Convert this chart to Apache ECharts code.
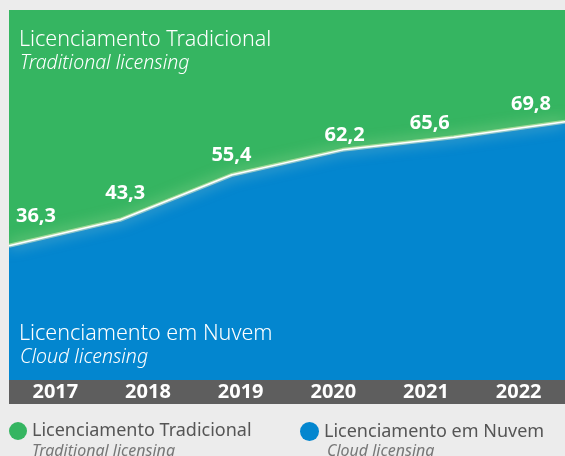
<!DOCTYPE html>
<html>
<head>
<meta charset="utf-8">
<script src="https://cdn.jsdelivr.net/npm/echarts@6/dist/echarts.min.js"></script>
<style>
  html, body { margin: 0; padding: 0; background: #ececec; }
  #chart { width: 565px; height: 456px; }
</style>
</head>
<body>
<div id="chart"></div>
<script>
const years = ['2017', '2018', '2019', '2020', '2021', '2022']
const cloud = [36.3, 43.3, 55.4, 62.2, 65.6, 69.8]
const traditional = [63.7, 56.7, 44.6, 37.8, 34.4, 30.2]

// label nudges so the numbers sit like in the print
const labelOffsets = [[27, -14], [5, -11], [0, -4], [2, 1], [-24, 2], [-34, -2]]

const green = '#35b561'
const blue = '#0386cf'
const font = 'Noto Sans'

const chart = echarts.init(document.getElementById('chart'))

const legendText = { color: '#555', fontSize: 18, fontFamily: font }

const option = {
  backgroundColor: '#ececec',
  textStyle: { fontFamily: font },
  grid: [
    { left: 9, right: 0, top: 10, bottom: 76 },
    { left: 9, right: 0, top: 380, height: 24, show: true, backgroundColor: '#5e5e5e', borderWidth: 0 },
  ],
  xAxis: [
    { type: 'category', data: years, boundaryGap: false, show: false },
    {
      type: 'category',
      gridIndex: 1,
      data: years,
      boundaryGap: true,
      axisLine: { show: false },
      axisTick: { show: false },
      axisLabel: {
        inside: true,
        margin: 12,
        verticalAlign: 'middle',
        color: '#fff',
        fontWeight: 'bold',
        fontSize: 20,
        fontFamily: font,
      },
    },
  ],
  yAxis: [
    { type: 'value', min: 0, max: 100, show: false },
    { type: 'value', gridIndex: 1, show: false },
  ],
  legend: [
    {
      left: 9,
      top: 422,
      padding: 0,
      icon: 'circle',
      itemWidth: 18,
      itemHeight: 18,
      data: [{ name: 'Licenciamento Tradicional', itemStyle: { color: green } }],
      textStyle: legendText,
    },
    {
      left: 300,
      top: 422,
      padding: 0,
      icon: 'circle',
      itemWidth: 19,
      itemHeight: 19,
      data: [{ name: 'Licenciamento em Nuvem', itemStyle: { color: blue } }],
      textStyle: legendText,
    },
  ],
  graphic: [
    { type: 'text', left: 19, top: 29, z: 10, style: { text: 'Licenciamento Tradicional', fill: '#fff', font: '300 21.5px "Noto Sans"' } },
    { type: 'text', left: 20, top: 53, z: 10, style: { text: 'Traditional licensing', fill: '#fff', font: 'italic 300 19.5px "Noto Sans"' } },
    { type: 'text', left: 19, top: 323, z: 10, style: { text: 'Licenciamento em Nuvem', fill: '#fff', font: '300 21.5px "Noto Sans"' } },
    { type: 'text', left: 20, top: 347, z: 10, style: { text: 'Cloud licensing', fill: '#fff', font: 'italic 300 19.5px "Noto Sans"' } },
    { type: 'text', left: 32, top: 443, z: 10, style: { text: 'Traditional licensing', fill: '#777', font: 'italic 16px "Noto Sans"' } },
    { type: 'text', left: 327, top: 443, z: 10, style: { text: 'Cloud licensing', fill: '#777', font: 'italic 16px "Noto Sans"' } },
  ],
  series: [
    {
      name: 'Licenciamento em Nuvem',
      type: 'line',
      stack: 'total',
      z: 2,
      color: blue,
      data: cloud,
      symbol: 'none',
      lineStyle: { width: 0 },
      areaStyle: { color: blue, opacity: 1 },
      animation: false,
    },
    {
      name: 'Licenciamento Tradicional',
      type: 'line',
      stack: 'total',
      z: 2,
      color: green,
      data: traditional,
      symbol: 'none',
      lineStyle: { width: 0 },
      areaStyle: { color: green, opacity: 1 },
      animation: false,
    },
    {
      // soft yellow glow along the border line
      name: 'glow',
      type: 'line',
      z: 3,
      data: cloud,
      symbol: 'none',
      silent: true,
      lineStyle: {
        color: 'rgba(255, 250, 200, 0.5)',
        width: 4,
        shadowColor: 'rgba(255, 250, 200, 1)',
        shadowBlur: 14,
      },
      animation: false,
    },
    {
      // white border line with value labels
      name: 'border',
      type: 'line',
      z: 4,
      data: cloud.map((v, i) => ({
        value: v,
        label: { offset: labelOffsets[i] },
      })),
      symbol: 'circle',
      symbolSize: 1,
      showSymbol: true,
      itemStyle: { color: '#fff' },
      lineStyle: { color: '#fff', width: 1.5 },
      label: {
        show: true,
        position: 'top',
        color: '#fff',
        fontWeight: 'bold',
        fontSize: 20,
        fontFamily: font,
        formatter: (p) => String(p.value).replace('.', ','),
      },
      animation: false,
    },
  ],
}

chart.setOption(option)
</script>
</body>
</html>
